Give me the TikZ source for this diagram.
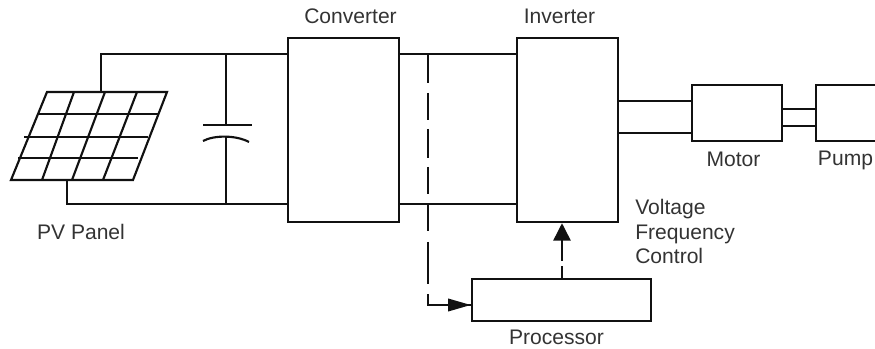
\documentclass[tikz,border=0pt]{standalone}
\usepackage{fontspec}
\setmainfont{Liberation Sans}
\usetikzlibrary{arrows.meta}
\definecolor{ki}{HTML}{111111}
\definecolor{kt}{HTML}{333333}
\tikzset{
  block/.style={draw=ki,line width=1.9pt,inner sep=0pt},
  wire/.style={draw=ki,line width=1.5pt},
  grid/.style={draw=ki,line width=1.6pt},
  sense/.style={draw=ki,line width=1.1pt},
  tag/.style={text=kt,font=\fontsize{15.8}{18.4}\selectfont,inner sep=0pt},
  tipup/.style={-{Triangle[length=13pt,width=13pt]}},
  tipright/.style={-{Triangle[length=17pt,width=9.5pt]}}
}
\begin{document}
\begin{tikzpicture}[x=0.75pt,y=-0.75pt]
  \path[use as bounding box,clip] (0,0) rectangle (875,349);

  % Blocks
  \node[block,minimum width=83.25pt,minimum height=138pt] (conv) at (343.5,130) {};
  \node[block,minimum width=75.75pt,minimum height=138pt] (inv) at (567.5,130) {};
  \node[block,minimum width=67.5pt,minimum height=42pt] (motor) at (737,113) {};
  \node[block,minimum width=75pt,minimum height=42pt] (pump) at (866,113) {};
  \node[block,minimum width=134.25pt,minimum height=31.5pt] (proc) at (561.5,300) {};

  % PV panel
  \coordinate (pvtl) at (47,92);
  \coordinate (pvtr) at (167,92);
  \coordinate (pvbr) at (133,180);
  \coordinate (pvbl) at (11,180);
  \draw[grid] (pvtl) -- (pvtr) -- (pvbr) -- (pvbl) -- cycle;
  \foreach \y/\xa/\xb in {114/38/158,137/24/148,158/18/138} {
    \draw[grid] (\xa,\y) -- (\xb,\y);
  }
  \foreach \xa/\xb in {74/42,105/72,137/103} {
    \draw[grid] (\xa,92) -- (\xb,180);
  }

  % Capacitor
  \coordinate (capa) at (226,125);
  \coordinate (capb) at (226,136);
  \draw[grid] (203,125) -- (252,125);
  \draw[grid] (203,141) .. controls (214,135) and (236,135) .. (249,142);

  % Wires
  \draw[wire] (101,92) -- (101,54) -- (conv.west |- 0,54);
  \draw[wire] (67,180) -- (67,204) -- (conv.west |- 0,204);
  \draw[wire] (226,54) -- (capa);
  \draw[wire] (capb) -- (226,204);
  \foreach \y in {54,204} {
    \draw[wire] (conv.east |- 0,\y) -- (inv.west |- 0,\y);
  }
  \foreach \y in {101,133} {
    \draw[wire,line width=1.8pt] (inv.east |- 0,\y) -- (motor.west |- 0,\y);
  }
  \foreach \y in {109,126} {
    \draw[wire,line width=1.8pt] (motor.east |- 0,\y) -- (pump.west |- 0,\y);
  }

  % Sensing and control
  \coordinate (tap) at (428,54);
  \draw[sense,dash pattern=on 21.75pt off 7.5pt on 20.25pt off 6.75pt on 21.75pt off 6.75pt on 20.25pt off 8.25pt on 19.5pt off 8.25pt on 31.5pt off 7.5pt on 200pt]
    (tap) -- (428,305) -- (proc.west |- 0,305);
  \path[draw=ki,line width=1.1pt,tipright] (445,305) -- (proc.west |- 0,305);
  \draw[sense,tipup,dash pattern=on 9pt off 3.75pt on 100pt] (proc.north -| 562,0) -- (inv.south -| 562,0);

  % Labels
  \node[tag] (pvlab) at (81,232) {PV Panel};
  \node[tag] (convlab) at (350.5,16) {Converter};
  \node[tag] (invlab) at (559.5,16) {Inverter};
  \node[tag] (motorlab) at (733.5,159) {Motor};
  \node[tag] (pumplab) at (845.5,160) {Pump};
  \node[tag] (proclab) at (556.5,337) {Processor};
  \node[tag,anchor=north west,align=left] (vfclab) at (635,199) {Voltage\\Frequency\\Control};
\end{tikzpicture}
\end{document}
